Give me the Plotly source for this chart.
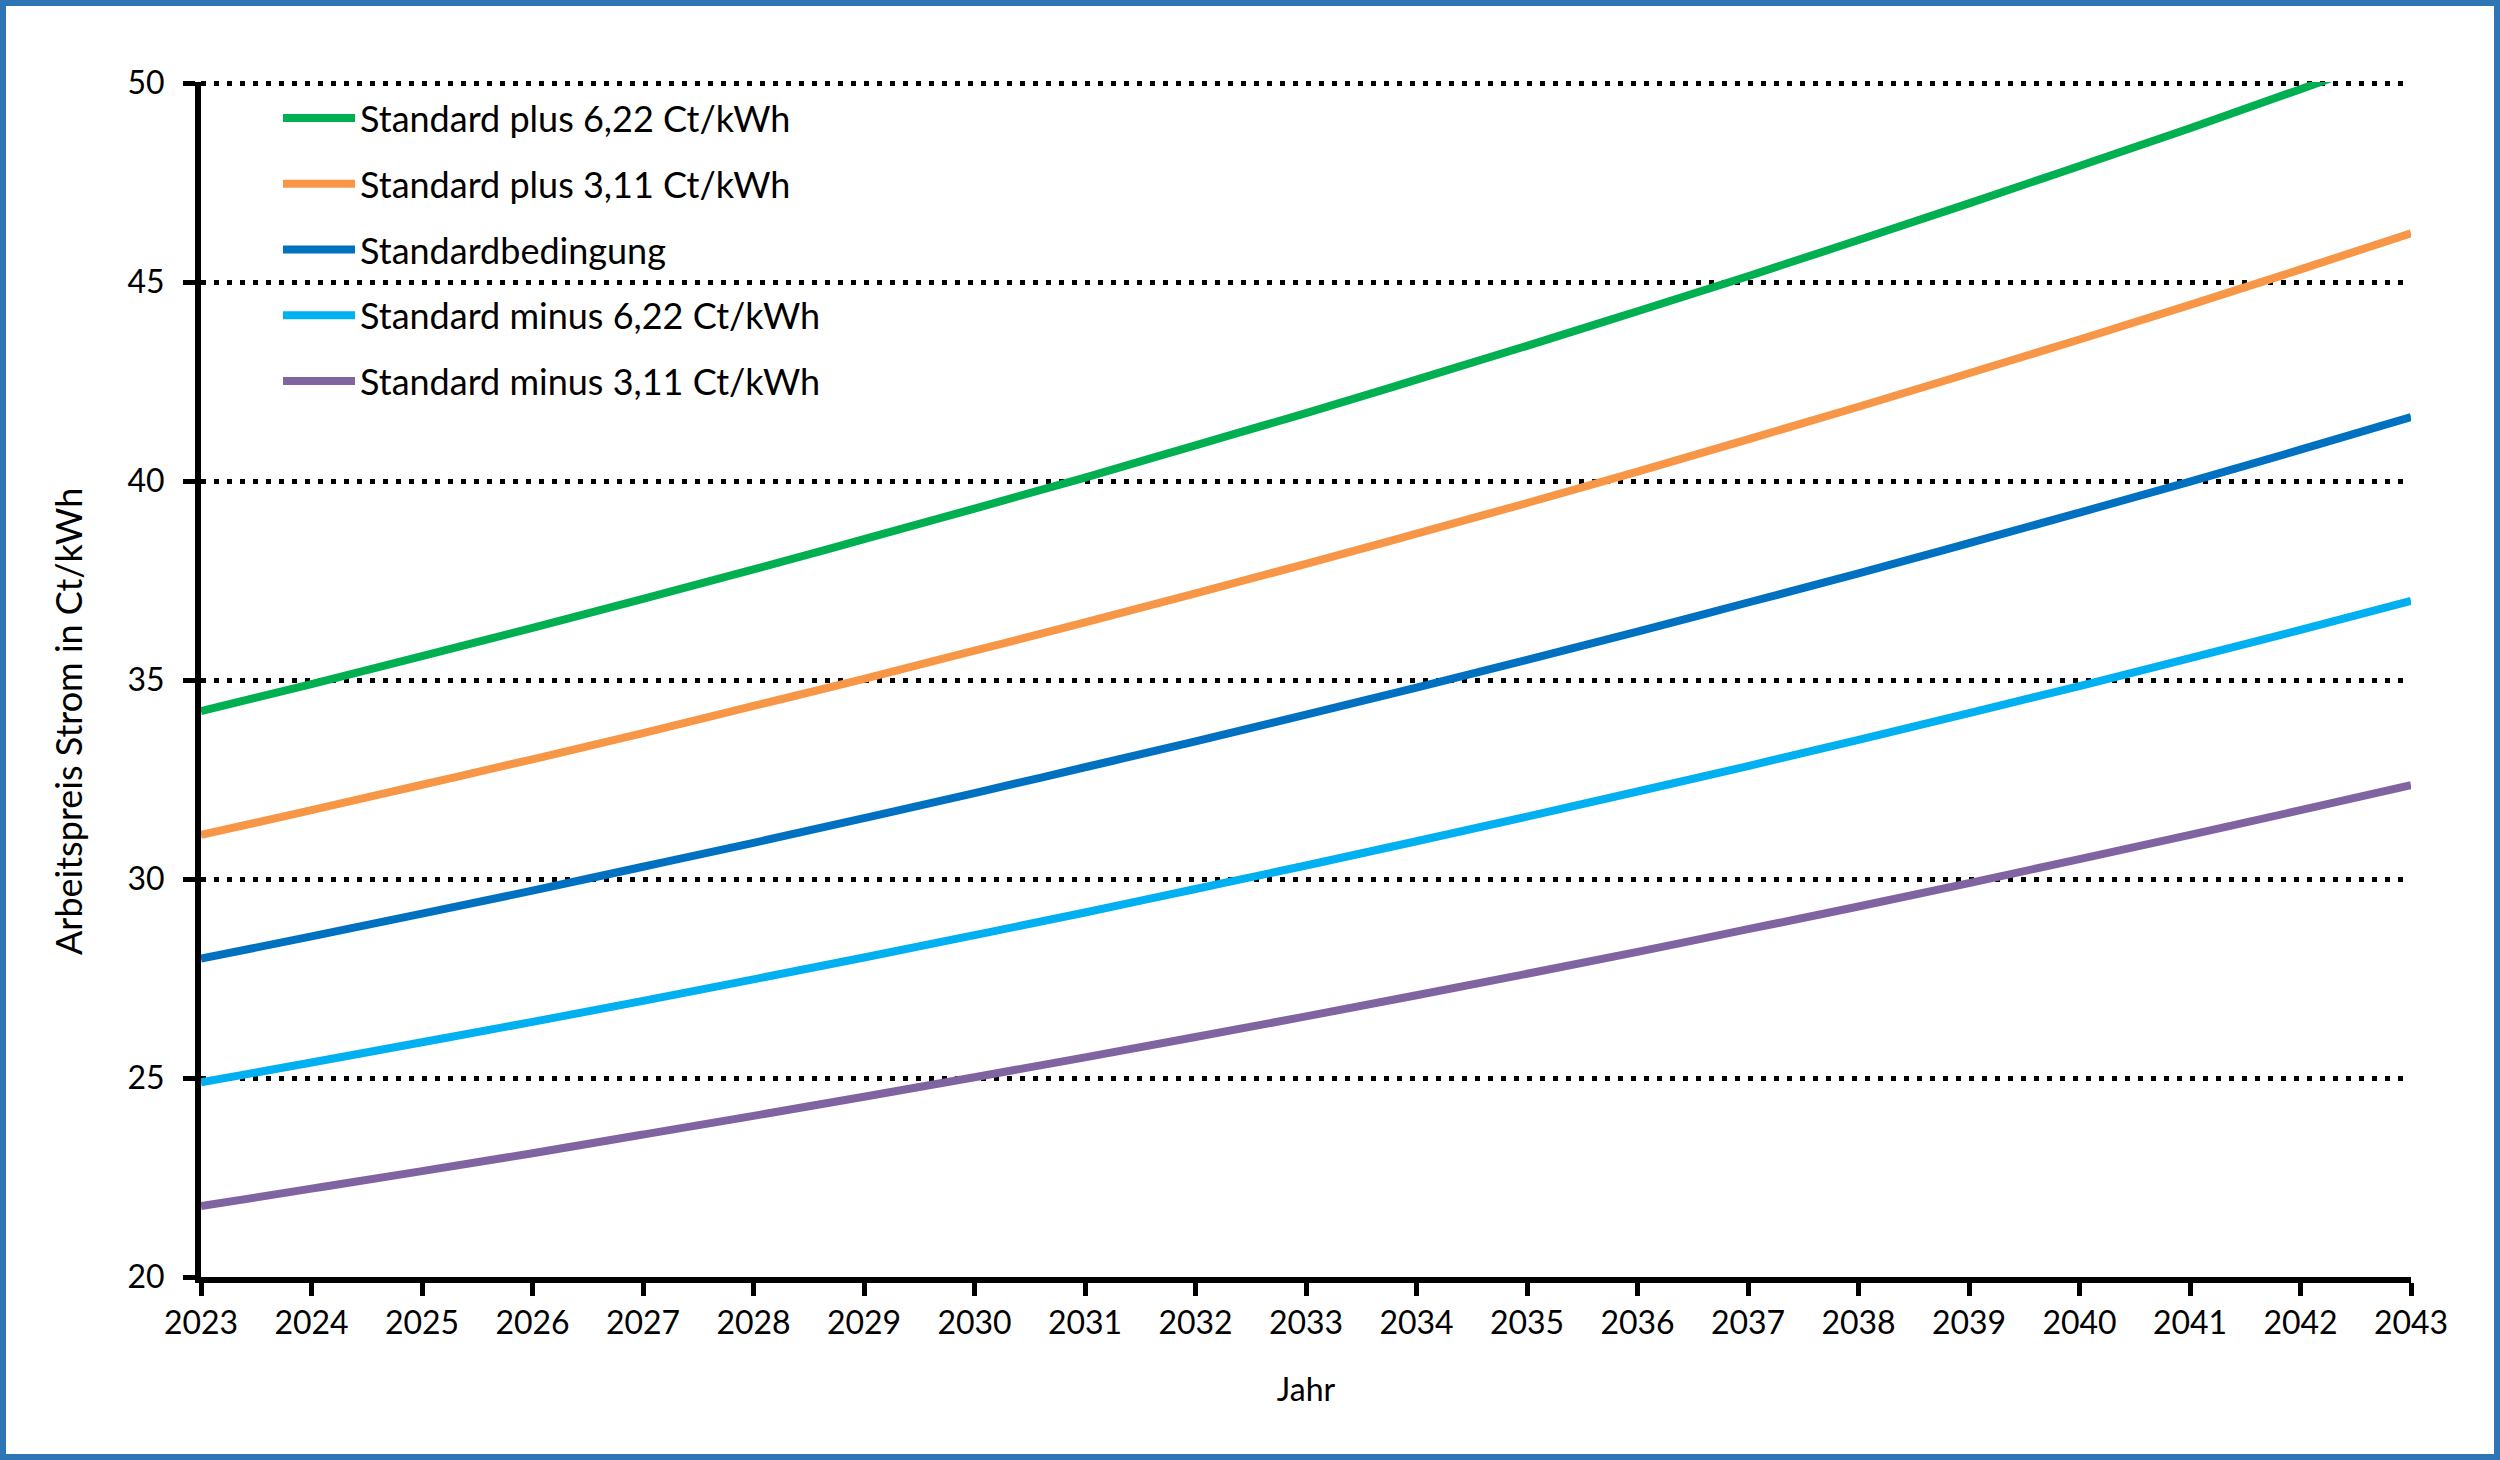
import plotly.graph_objects as go

years = list(range(2023, 2044))
plus_622 = [34.22, 34.90, 35.60, 36.31, 37.04, 37.78, 38.54, 39.31, 40.09, 40.90, 41.71,
            42.55, 43.40, 44.27, 45.15, 46.06, 46.98, 47.92, 48.87, 49.85, 50.85]
plus_311 = [31.11, 31.73, 32.37, 33.01, 33.67, 34.35, 35.03, 35.74, 36.45, 37.18, 37.92,
            38.68, 39.45, 40.24, 41.05, 41.87, 42.71, 43.56, 44.43, 45.32, 46.23]
standard = [28.00, 28.56, 29.13, 29.71, 30.31, 30.91, 31.53, 32.16, 32.81, 33.46, 34.13,
            34.81, 35.51, 36.22, 36.95, 37.68, 38.44, 39.21, 39.99, 40.79, 41.61]
minus_622 = [24.89, 25.39, 25.90, 26.41, 26.94, 27.48, 28.03, 28.59, 29.16, 29.75, 30.34,
             30.95, 31.57, 32.20, 32.84, 33.50, 34.17, 34.85, 35.55, 36.26, 36.99]
minus_311 = [21.78, 22.22, 22.66, 23.11, 23.58, 24.05, 24.53, 25.02, 25.52, 26.03, 26.55,
             27.08, 27.62, 28.17, 28.74, 29.31, 29.90, 30.50, 31.11, 31.73, 32.36]

series_names = ["Standard plus 6,22 Ct/kWh", "Standard plus 3,11 Ct/kWh", "Standardbedingung",
                "Standard minus 6,22 Ct/kWh", "Standard minus 3,11 Ct/kWh"]
series_values = [plus_622, plus_311, standard, minus_622, minus_311]
colors = ["#00B050", "#F79646", "#0070C0", "#00B0F0", "#8064A2"]

y_ticks = [20, 25, 30, 35, 40, 45, 50]
x_title = "Jahr"
y_title = "Arbeitspreis Strom in Ct/kWh"

FONT = "Lato"

fig = go.Figure()
for i, (name, vals, col) in enumerate(zip(series_names, series_values, colors)):
    fig.add_trace(go.Scatter(x=years, y=vals, name=name, mode="lines",
                             line=dict(color=col, width=8, shape="spline"),
                             legendgroup=str(i)))

W, H = 2500, 1460
L, R, T, B = 201, 89, 82, 183
pw, ph = W - L - R, H - T - B

fig.update_layout(
    width=W, height=H,
    margin=dict(l=L, r=R, t=T, b=B),
    paper_bgcolor="white", plot_bgcolor="white",
    font=dict(family=FONT, size=32, color="black"),
    showlegend=True,
    legend=dict(x=(278 - L) / pw, y=1 - (88 - T) / ph, xanchor="left", yanchor="top",
                font=dict(family=FONT, size=36, color="black"),
                bgcolor="rgba(0,0,0,0)", traceorder="grouped", tracegroupgap=16,
                itemwidth=72),
    xaxis=dict(range=[2023, 2043], tickmode="array", tickvals=years,
               ticktext=[str(y) for y in years],
               showline=True, linecolor="black", linewidth=6,
               ticks="outside", ticklen=13, tickwidth=5, tickcolor="black",
               showgrid=False, zeroline=False,
               title=dict(text=x_title, font=dict(family=FONT, size=32), standoff=40),
               tickfont=dict(family=FONT, size=32)),
    yaxis=dict(range=[20, 50.03], tickmode="array", tickvals=y_ticks,
               showline=True, linecolor="black", linewidth=6,
               ticks="outside", ticklen=12, tickwidth=5, tickcolor="black",
               ticklabelstandoff=12,
               showgrid=True, gridcolor="black", gridwidth=5, griddash="5px,8px",
               zeroline=False,
               tickfont=dict(family=FONT, size=32)),
)

# y-axis title placed as in the original (slightly below the plot centre)
fig.add_annotation(text=y_title, xref="paper", yref="paper",
                   x=(68 - L) / pw, y=(T + ph - 722) / ph, xanchor="center", yanchor="middle",
                   textangle=-90, showarrow=False, font=dict(family=FONT, size=36, color="black"))

# outer blue frame of the picture
fig.add_shape(type="rect", xref="paper", yref="paper",
              x0=(3 - L) / pw, x1=(W - 3 - L) / pw,
              y0=-(H - 3 - T - ph) / ph, y1=1 + (T - 3) / ph,
              line=dict(color="#2E75B6", width=6), fillcolor="rgba(0,0,0,0)", layer="below")

fig.write_html("out.html", config={"displayModeBar": False},
               post_script="document.body.style.margin='0';document.body.style.overflow='hidden';")
